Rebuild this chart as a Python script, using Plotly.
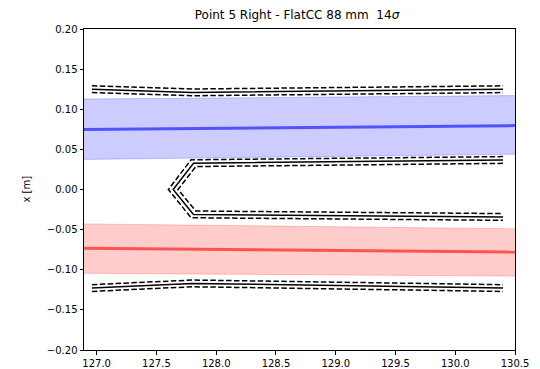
import plotly.graph_objects as go

# ---- data ----
s_beam = [126.85, 130.55]
b1_center = [0.0748, 0.0797]
b1_upper = [0.1127, 0.1171]
b1_lower = [0.0374, 0.0440]
b2_center = [-0.0731, -0.0779]
b2_upper = [-0.0428, -0.0490]
b2_lower = [-0.1043, -0.1080]

# outer upper aperture
s_out = [126.96, 127.80, 130.40]
ap_up = [0.1250, 0.1210, 0.1250]
ap_up_hi = [0.1292, 0.1252, 0.1292]
ap_up_lo = [0.1208, 0.1168, 0.1208]
# outer lower aperture
ap_dn = [-0.1228, -0.1170, -0.1228]
ap_dn_hi = [-0.1186, -0.1128, -0.1186]
ap_dn_lo = [-0.1270, -0.1212, -0.1270]

# inner (central) aperture chevron
s_in = [130.40, 127.81, 127.64, 127.81, 130.40]
ap_in = [0.0368, 0.0328, 0.0000, -0.0310, -0.0342]
s_in_out = [130.40, 127.79, 127.60, 127.79, 130.40]
ap_in_out = [0.0410, 0.0370, 0.0000, -0.0352, -0.0384]
s_in_in = [130.40, 127.83, 127.68, 127.83, 130.40]
ap_in_in = [0.0326, 0.0286, 0.0000, -0.0268, -0.0300]

xticks = [127.0, 127.5, 128.0, 128.5, 129.0, 129.5, 130.0, 130.5]
xtick_text = ["127.0", "127.5", "128.0", "128.5", "129.0", "129.5", "130.0", "130.5"]
yticks = [0.20, 0.15, 0.10, 0.05, 0.00, -0.05, -0.10, -0.15, -0.20]
ytick_text = ["0.20", "0.15", "0.10", "0.05", "0.00", "\u22120.05", "\u22120.10", "\u22120.15", "\u22120.20"]

fig = go.Figure()

def band(lo, hi, fill, edge):
    fig.add_trace(go.Scatter(x=s_beam, y=lo, mode="lines",
                             line=dict(color=edge, width=1), showlegend=False, hoverinfo="skip"))
    fig.add_trace(go.Scatter(x=s_beam, y=hi, mode="lines", fill="tonexty", fillcolor=fill,
                             line=dict(color=edge, width=1), showlegend=False, hoverinfo="skip"))

band(b1_lower, b1_upper, "rgba(0,0,255,0.2)", "rgba(0,0,255,0.2)")
fig.add_trace(go.Scatter(x=s_beam, y=b1_center, mode="lines",
                         line=dict(color="rgba(0,0,255,0.6)", width=3), showlegend=False))
band(b2_lower, b2_upper, "rgba(255,0,0,0.2)", "rgba(255,0,0,0.2)")
fig.add_trace(go.Scatter(x=s_beam, y=b2_center, mode="lines",
                         line=dict(color="rgba(255,0,0,0.6)", width=3), showlegend=False))

dash = "5.5px,2.4px"
def ap(x, y, dashed):
    fig.add_trace(go.Scatter(x=x, y=y, mode="lines",
                             line=dict(color="black", width=1.5, dash=dash if dashed else "solid"),
                             showlegend=False))

ap(s_out, ap_up, False); ap(s_out, ap_up_hi, True); ap(s_out, ap_up_lo, True)
ap(s_out, ap_dn, False); ap(s_out, ap_dn_hi, True); ap(s_out, ap_dn_lo, True)
ap(s_in, ap_in, False); ap(s_in_out, ap_in_out, True); ap(s_in_in, ap_in_in, True)

axis_common = dict(showgrid=False, zeroline=False, showline=True, linecolor="black", linewidth=1,
                   mirror=True, ticks="outside", ticklen=3.5, tickwidth=1, tickcolor="black",
                   automargin=False,
                   tickfont=dict(family="DejaVu Sans", size=10, color="black"))

# page has an 8px body margin: figure is 532x361 placed at (8,8)
W, H = 532, 361
ml, mr, mt, mb = 76, 25, 21, 19
pw = W - ml - mr

fig.update_layout(
    width=W, height=H,
    margin=dict(l=ml, r=mr, t=mt, b=mb, autoexpand=False),
    paper_bgcolor="white", plot_bgcolor="white",
    title=dict(text="Point 5 Right - FlatCC 88 mm  14<i>\u03c3</i>", x=289/W, xanchor="center",
               y=1 - 7/H, yanchor="middle",
               font=dict(family="DejaVu Sans", size=12, color="black")),
    xaxis=dict(range=[126.894, 130.5], tickvals=xticks, ticktext=xtick_text, **axis_common),
    yaxis=dict(range=[-0.2, 0.2], tickvals=yticks, ticktext=ytick_text, **axis_common),
    annotations=[dict(text="x [m]", xref="paper", yref="paper", x=(18 - ml) / pw, y=0.5,
                      xanchor="center", yanchor="middle", textangle=-90, showarrow=False,
                      font=dict(family="DejaVu Sans", size=10, color="black"))],
)

fig.write_html("out.html")
